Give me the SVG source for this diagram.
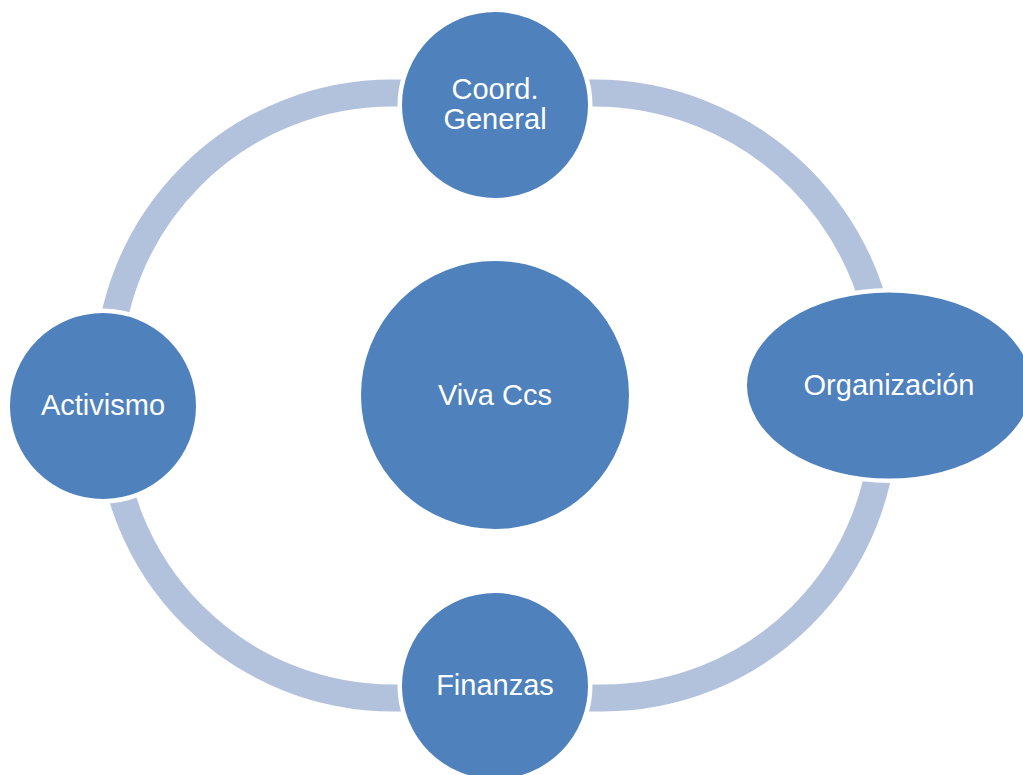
<svg xmlns="http://www.w3.org/2000/svg" width="1023" height="775" viewBox="0 0 1023 775">
<style>
.ring{fill:none;stroke:#B2C1DC;stroke-width:27;stroke-linecap:butt}
.node{fill:#4F81BD;stroke:#FFFFFF;stroke-width:4.5}
.lbl{fill:#FFFFFF;font-family:"Liberation Sans",Arial,sans-serif;font-size:29px;text-anchor:middle}
</style>
<rect width="1023" height="775" fill="#FFFFFF"/>
<g id="connectors">
<path class="ring" d="M 495,93 L 594,93 A 291 291 0 0 1 885,384 L 884.5,400"/>
<path class="ring" d="M 884.5,400 L 884,417 A 281 281 0 0 1 603,698 L 495,698"/>
<path class="ring" d="M 495,698 L 393,698 A 283 283 0 0 1 110,415 L 109,396"/>
<path class="ring" d="M 109,396 L 108,377 A 284 284 0 0 1 392,93 L 495,93"/>
</g>
<g id="node-center">
<circle class="node" cx="495" cy="395" r="136.25"/>
<text class="lbl" x="495" y="405">Viva Ccs</text>
</g>
<g id="node-coord">
<circle class="node" cx="495" cy="105" r="95.25"/>
<text class="lbl" x="495" y="99">Coord.</text>
<text class="lbl" x="495" y="129">General</text>
</g>
<g id="node-organizacion">
<ellipse class="node" cx="889" cy="385.5" rx="144.25" ry="95.25"/>
<text class="lbl" x="889" y="395">Organización</text>
</g>
<g id="node-finanzas">
<circle class="node" cx="495" cy="686" r="95.25"/>
<text class="lbl" x="495" y="695">Finanzas</text>
</g>
<g id="node-activismo">
<circle class="node" cx="103" cy="406" r="95.25"/>
<text class="lbl" x="103" y="415">Activismo</text>
</g>
</svg>
